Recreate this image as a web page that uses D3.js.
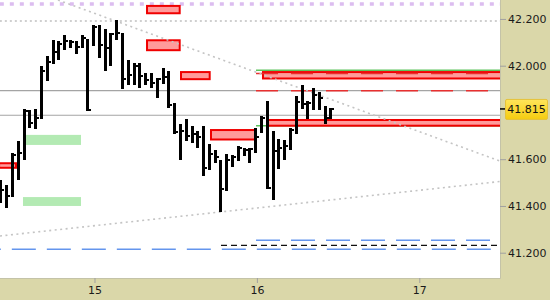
<!DOCTYPE html>
<html>
<head>
<meta charset="utf-8">
<script src="https://cdn.jsdelivr.net/npm/d3@7"></script>
<style>
  body { margin: 0; background: #dad7a9; }
  svg { display: block; }
  .axis text { font-family: "DejaVu Sans", sans-serif; font-size: 11px; fill: #1a1a1a; }
  .axis line { stroke: #a0a0a0; }
  .axis path { display: none; }
</style>
</head>
<body>
<div id="chart"></div>
<script>
//// Data (x in bar index units, 30 min bars, y in price)

// HLC bars, one entry per bar
const barHigh = [41.511, 41.490, 41.627, 41.678, 41.815, 41.810, 41.815, 41.999, 42.041, 42.110,
                 42.106, 42.131, 42.110, 42.104, 42.131, 42.114, 42.174, 42.174, 42.157, 42.140,
                 42.196, 42.140, 42.024, 42.012, 42.012, 41.969, 41.969, 41.947, 41.990, 41.977,
                 41.840, 41.751, 41.772, 41.742, 41.721, 41.742, 41.665, 41.639, 41.597, 41.622,
                 41.620, 41.656, 41.648, 41.648, 41.733, 41.785, 41.849, 41.721, 41.686, 41.682,
                 41.733, 41.870, 41.917, 41.849, 41.905, 41.888, 41.828, 41.819]
const barLow  = [41.413, 41.391, 41.438, 41.511, 41.597, 41.733, 41.730, 41.772, 41.935, 42.007,
                 42.024, 42.067, 42.074, 42.052, 42.076, 41.806, 42.084, 42.033, 41.977, 41.999,
                 42.112, 41.900, 41.917, 41.917, 41.905, 41.917, 41.905, 41.862, 41.922, 41.819,
                 41.708, 41.597, 41.678, 41.669, 41.650, 41.528, 41.554, 41.584, 41.374, 41.466,
                 41.565, 41.594, 41.614, 41.584, 41.627, 41.712, 41.473, 41.426, 41.558, 41.597,
                 41.639, 41.708, 41.815, 41.772, 41.810, 41.810, 41.751, 41.774]
const barClose = [41.468, 41.443, 41.618, 41.627, 41.806, 41.755, 41.776, 41.977, 42.016, 42.059,
                  42.093, 42.106, 42.101, 42.080, 42.118, 41.810, 42.166, 42.089, 42.076, 42.136,
                  42.140, 41.943, 41.960, 41.999, 41.956, 41.939, 41.926, 41.943, 41.952, 41.832,
                  41.716, 41.721, 41.699, 41.708, 41.695, 41.562, 41.622, 41.609, 41.473, 41.597,
                  41.609, 41.648, 41.639, 41.644, 41.695, 41.776, 41.477, 41.635, 41.648, 41.656,
                  41.725, 41.845, 41.836, 41.840, 41.875, 41.862, 41.776, 41.815]

const lastPrice = 41.815

// day separators on the bar index axis
const dayLabels = ["15", "16", "17"]
const dayTickIndex = [16.15, 44.2, 72.25]

// price axis labels
const priceTicks = [41.2, 41.4, 41.6, 42.0, 42.2]

// zones: [index start, index end, price low, price high]
const pinkZones = [
    [25.05, 31.04, 42.220, 42.260],
    [25.05, 31.04, 42.062, 42.113],
    [30.92, 36.22, 41.938, 41.977],
    [36.10, 44.13, 41.680, 41.729],
    [-0.50, 2.77, 41.559, 41.587],
    [45.08, 87.00, 41.941, 41.977],
    [45.95, 87.00, 41.739, 41.772]
]
const greenZones = [
    [3.80, 13.82, 41.661, 41.704],
    [3.80, 13.82, 41.400, 41.438]
]

// horizontal levels: [price, index start]
const purpleLevel = [42.264, -0.2]
const grayDottedLevel = [42.191, -0.2]
const grayLevels = [[41.893, -0.2], [41.788, -0.2]]
const greenLevels = [[41.980, 44.05], [41.743, 44.05]]
const redDashedLevels = [[41.967, 44.05], [41.893, 44.05]]
const blueLevels = [[41.2146, -0.2], [41.2531, 44.05]]
const blackDashedLevel = [41.2317, 38.0]

// trend lines: two points each [index, price]
const trendLines = [
    [[9.84, 42.281], [86.2, 41.592]],
    [[-0.17, 41.2715], [86.2, 41.5046]]
]

//// Layout

const W = 550, H = 300
const plotW = 500, plotH = 278
const X_END = 86.19

const svg = d3.select("#chart")
    .append("svg")
        .attr("width", W)
        .attr("height", H)

svg.append("rect")
    .attr("width", W)
    .attr("height", H)
    .attr("fill", "#dad7a9")

const x = d3.scaleLinear()
    .domain([-0.17, X_END])
    .range([0, plotW])

const y = d3.scaleLinear()
    .domain([41.0918, 42.281])
    .range([plotH, 0])

svg.append("clipPath")
    .attr("id", "plot-clip")
    .append("rect")
        .attr("width", plotW)
        .attr("height", plotH)

svg.append("rect")
    .attr("width", plotW)
    .attr("height", plotH)
    .attr("fill", "white")

const plot = svg.append("g")
    .attr("clip-path", "url(#plot-clip)")

function hline(level, color, width, dash, offset) {
    return plot.append("line")
        .attr("x1", x(level[1]))
        .attr("x2", x(X_END) + 5)
        .attr("y1", y(level[0]))
        .attr("y2", y(level[0]))
        .attr("stroke", color)
        .attr("stroke-width", width)
        .attr("stroke-dasharray", dash)
        .attr("stroke-dashoffset", offset || 0)
}

// Background levels
hline(purpleLevel, "#dcbdf0", 3.5, "4,6", 0)
hline(grayDottedLevel, "#cfcfcf", 2, "2,3", 0)
grayLevels.forEach(l => hline(l, "#a4a4a4", 1.2, null))
blueLevels.forEach((l, i) => hline(l, "#6495ed", 1.5, "24,11", i === 0 ? 23 : 0))
hline(blackDashedLevel, "#111", 1.2, "6,4", 0)
greenLevels.forEach(l => hline(l, "#5cc45c", 1.5, null))

// Zones
plot.append("g")
    .selectAll("rect")
    .data(greenZones)
    .enter()
    .append("rect")
        .attr("x", d => x(d[0]))
        .attr("width", d => x(d[1]) - x(d[0]))
        .attr("y", d => y(d[3]))
        .attr("height", d => y(d[2]) - y(d[3]))
        .attr("fill", "#b3eab3")

plot.append("g")
    .selectAll("rect")
    .data(pinkZones)
    .enter()
    .append("rect")
        .attr("x", d => x(d[0]) + 1)
        .attr("width", d => x(d[1]) - x(d[0]) - 2)
        .attr("y", d => y(d[3]) + 1)
        .attr("height", d => y(d[2]) - y(d[3]) - 2)
        .attr("fill", "#ff9b9b")
        .attr("stroke", "#f00000")
        .attr("stroke-width", 2)

redDashedLevels.forEach(l => hline(l, "#e83030", 1.5, "22,13", 0))

// Trend lines
plot.append("g")
    .selectAll("line")
    .data(trendLines)
    .enter()
    .append("line")
        .attr("x1", d => x(d[0][0]))
        .attr("y1", d => y(d[0][1]))
        .attr("x2", d => x(d[1][0]))
        .attr("y2", d => y(d[1][1]))
        .attr("stroke", "#c4c4c4")
        .attr("stroke-width", 1.6)
        .attr("stroke-dasharray", "2,3.5")

// HLC bars
const bars = plot.append("g")
    .attr("fill", "#000")
    .attr("shape-rendering", "crispEdges")
    .selectAll("g")
    .data(barHigh.map((h, i) => ({i: i, h: h, l: barLow[i], c: barClose[i]})))
    .enter()
    .append("g")

bars.append("rect")
    .attr("x", d => Math.round(x(d.i) - 1.5))
    .attr("width", 3)
    .attr("y", d => Math.round(y(d.h)))
    .attr("height", d => Math.round(y(d.l)) - Math.round(y(d.h)))

bars.append("rect")
    .attr("x", d => Math.round(x(d.i) - 1.5) + 3)
    .attr("width", 2)
    .attr("y", d => Math.round(y(d.c)) - 1)
    .attr("height", 2)

// Plot edges on the axis sides
svg.append("path")
    .attr("d", "M" + (plotW + 0.5) + ",0V" + (plotH + 0.5) + "H0")
    .attr("fill", "none")
    .attr("stroke", "#c4c3a8")

// Price axis
svg.append("g")
    .attr("class", "axis")
    .attr("transform", "translate(" + plotW + ",0)")
    .call(d3.axisRight(y)
        .tickValues(priceTicks)
        .tickFormat(d3.format(".3f"))
        .tickSize(6)
        .tickPadding(2))

// Day axis
svg.append("g")
    .attr("class", "axis")
    .attr("transform", "translate(0," + plotH + ")")
    .call(d3.axisBottom(x)
        .tickValues(dayTickIndex)
        .tickFormat((d, i) => dayLabels[i])
        .tickSize(5)
        .tickPadding(3))

// Last price marker
svg.append("line")
    .attr("x1", plotW)
    .attr("x2", plotW + 6)
    .attr("y1", y(lastPrice))
    .attr("y2", y(lastPrice))
    .attr("stroke", "#000")
    .attr("stroke-width", 1.5)

const grad = svg.append("defs")
    .append("linearGradient")
        .attr("id", "price-grad")
        .attr("x1", 0).attr("x2", 0).attr("y1", 0).attr("y2", 1)
grad.append("stop").attr("offset", "0%").attr("stop-color", "#ffe55a")
grad.append("stop").attr("offset", "100%").attr("stop-color", "#f5cc10")

svg.append("rect")
    .attr("x", plotW + 5.5)
    .attr("y", y(lastPrice) - 9.5)
    .attr("width", 42)
    .attr("height", 20)
    .attr("rx", 1.5)
    .attr("fill", "url(#price-grad)")
    .attr("stroke", "#e6c23a")

svg.append("text")
    .attr("x", plotW + 26.5)
    .attr("y", y(lastPrice) + 0.5)
    .attr("dy", "0.35em")
    .attr("text-anchor", "middle")
    .style("font-family", "DejaVu Sans, sans-serif")
    .style("font-size", "11px")
    .style("fill", "#111")
    .text(d3.format(".3f")(lastPrice))
</script>
</body>
</html>
